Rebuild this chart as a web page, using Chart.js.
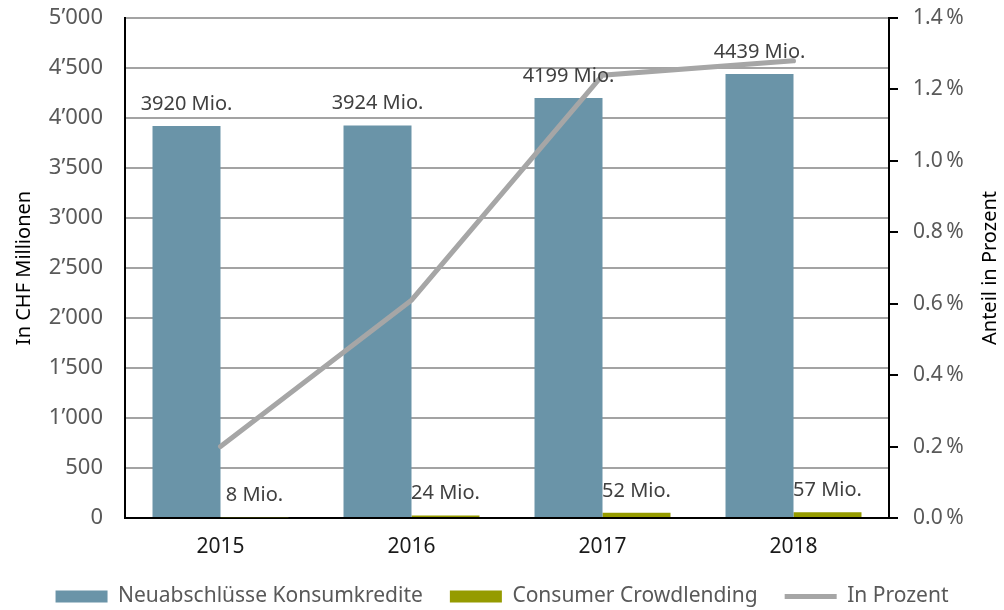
<!DOCTYPE html>
<html><head><meta charset="utf-8">
<script src="https://cdn.jsdelivr.net/npm/chart.js@4"></script>
<style>html,body{margin:0;padding:0;background:#fff}#wrap{width:1004px;height:610px}</style>
</head><body><div id="wrap"><canvas id="c" width="1004" height="610"></canvas></div>
<script>
const categories = ['2015', '2016', '2017', '2018'];
const konsumkredite = [3920, 3924, 4199, 4439];
const crowdlending = [8, 24, 52, 57];
const anteilProzent = [0.20, 0.61, 1.24, 1.28];
const konsumLabels = ['3920 Mio.', '3924 Mio.', '4199 Mio.', '4439 Mio.'];
const crowdLabels = ['8 Mio.', '24 Mio.', '52 Mio.', '57 Mio.'];
const leftTickLabels = ['0', '500', '1\u2019000', '1\u2019500', '2\u2019000', '2\u2019500', '3\u2019000', '3\u2019500', '4\u2019000', '4\u2019500', '5\u2019000'];
const rightTickLabels = ['0.0\u202F%', '0.2\u202F%', '0.4\u202F%', '0.6\u202F%', '0.8\u202F%', '1.0\u202F%', '1.2\u202F%', '1.4\u202F%'];
const seriesNames = ['Neuabschl\u00fcsse Konsumkredite', 'Consumer Crowdlending', 'In Prozent'];
const leftTitle = 'In CHF Millionen';
const rightTitle = 'Anteil in Prozent';

const FONT = 'Noto Sans';
const BLUE = '#6A94A8', GREEN = '#959B00', GREY = '#A6A6A6';

const barLabelPlugin = {
  id: 'barLabels',
  afterDatasetsDraw(chart) {
    const ctx = chart.ctx;
    ctx.save();
    ctx.font = '20px "' + FONT + '"';
    ctx.fillStyle = '#404040';
    ctx.textAlign = 'center';
    ctx.textBaseline = 'middle';
    const sets = [[0, konsumLabels], [1, crowdLabels]];
    sets.forEach(([di, labels]) => {
      const meta = chart.getDatasetMeta(di);
      meta.data.forEach((bar, i) => {
        ctx.fillText(labels[i], bar.x, bar.y - 22);
      });
    });
    ctx.restore();
  }
};

const rightTitlePlugin = {
  id: 'rightTitle',
  afterDraw(chart) {
    const ctx = chart.ctx;
    const a = chart.chartArea;
    ctx.save();
    ctx.font = '20px "' + FONT + '"';
    ctx.fillStyle = '#000';
    ctx.textAlign = 'center';
    ctx.textBaseline = 'middle';
    ctx.translate(990, (a.top + a.bottom) / 2);
    ctx.rotate(-Math.PI / 2);
    ctx.fillText(rightTitle, 0, 0);
    ctx.restore();
  }
};

function fixV(width) {
  return function (s) { s.width = width; s.paddingTop = 0; s.paddingBottom = 0; };
}

new Chart(document.getElementById('c'), {
  data: {
    labels: categories,
    datasets: [
      { type: 'bar', label: seriesNames[0], data: konsumkredite, backgroundColor: BLUE, yAxisID: 'y', order: 2,
        barPercentage: 1, categoryPercentage: 0.712 },
      { type: 'bar', label: seriesNames[1], data: crowdlending, backgroundColor: GREEN, yAxisID: 'y', order: 2,
        barPercentage: 1, categoryPercentage: 0.712 },
      { type: 'line', label: seriesNames[2], data: anteilProzent, borderColor: GREY, backgroundColor: GREY,
        borderWidth: 5, pointRadius: 0, pointHoverRadius: 0, tension: 0, yAxisID: 'y1', order: 0,
        borderCapStyle: 'round', borderJoinStyle: 'miter' }
    ]
  },
  options: {
    responsive: false,
    animation: false,
    devicePixelRatio: 1,
    layout: { padding: { top: 18, left: 0, right: 0, bottom: -7 } },
    plugins: {
      tooltip: { enabled: false },
      legend: {
        position: 'bottom',
        labels: {
          usePointStyle: true,
          pointStyleWidth: 52,
          boxHeight: 12,
          padding: 27,
          color: '#595959',
          font: { family: FONT, size: 21 },
          sort: (a, b) => a.datasetIndex - b.datasetIndex,
          generateLabels(chart) {
            const items = Chart.defaults.plugins.legend.labels.generateLabels(chart);
            items.forEach(it => {
              if (it.datasetIndex === 2) {
                it.pointStyle = 'line'; it.strokeStyle = GREY; it.lineWidth = 5; it.fillStyle = GREY;
              } else {
                it.pointStyle = 'rect'; it.lineWidth = 0;
                it.fillStyle = it.datasetIndex === 0 ? BLUE : GREEN; it.strokeStyle = it.fillStyle;
              }
            });
            return items;
          }
        }
      }
    },
    scales: {
      x: {
        grid: { display: false, drawTicks: false },
        border: { color: '#000', width: 2 },
        ticks: { color: '#1a1a1a', font: { family: FONT, size: 21 }, padding: 16 },
        afterFit(s) { s.height = 41; s.paddingLeft = 0; s.paddingRight = 0; }
      },
      y: {
        position: 'left', min: 0, max: 5000,
        ticks: { stepSize: 500, color: '#595959', font: { family: FONT, size: 22 }, padding: 22,
          callback: (v, i) => leftTickLabels[i] },
        grid: { color: '#A3A3A3', lineWidth: 2, drawTicks: false },
        border: { color: '#000', width: 2 },
        title: { display: true, text: leftTitle, color: '#000', font: { family: FONT, size: 20 }, padding: { top: 12, bottom: 4 } },
        afterFit: fixV(125)
      },
      y1: {
        position: 'right', min: 0, max: 1.4,
        ticks: { stepSize: 0.2, color: '#595959', font: { family: FONT, size: 21 }, padding: 15,
          callback: (v, i) => rightTickLabels[i] },
        grid: { drawOnChartArea: false, drawTicks: true, tickLength: 9, color: '#000', lineWidth: 2 },
        border: { color: '#000', width: 2 },
        afterFit: fixV(115)
      }
    }
  },
  plugins: [barLabelPlugin, rightTitlePlugin]
});
</script>
</body></html>
